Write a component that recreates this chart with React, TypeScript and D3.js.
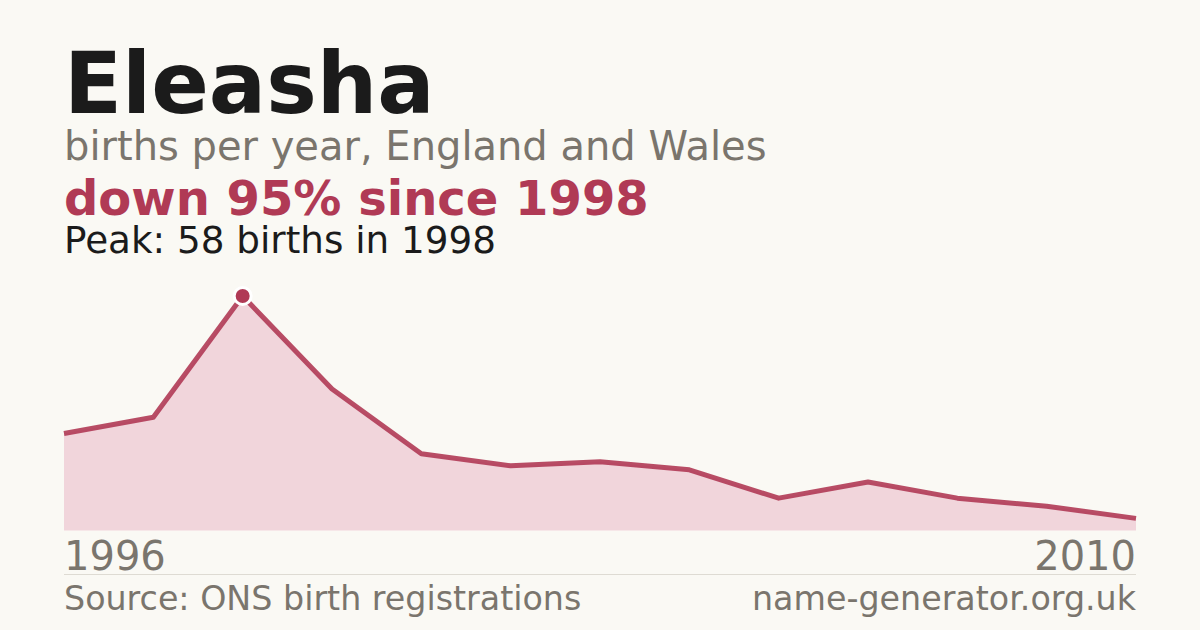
import React from 'react';
import * as d3 from 'd3';

const years = [1996, 1997, 1998, 1999, 2000, 2001, 2002, 2003, 2004, 2005, 2006, 2008, 2010];
const births = [24, 28, 58, 35, 19, 16, 17, 15, 8, 12, 8, 6, 3];
const firstYearLabel = '1996';
const lastYearLabel = '2010';

const W = 1200;
const H = 630;
const margin = { left: 64, right: 64 };
const plotTop = 296;
const plotBottom = 530.5;

const red = '#b03a55';
const grey = '#7a756d';

const App: React.FC = () => {
    const x = d3.scalePoint<number>()
        .domain(years)
        .range([margin.left, W - margin.right]);

    const y = d3.scaleLinear()
        .domain([0, d3.max(births) as number])
        .range([plotBottom, plotTop]);

    const pts = years.map((yr, i) => ({ yr, v: births[i] }));

    const area = d3.area<{ yr: number; v: number }>()
        .x(d => x(d.yr) as number)
        .y0(plotBottom)
        .y1(d => y(d.v));

    const line = d3.line<{ yr: number; v: number }>()
        .x(d => x(d.yr) as number)
        .y(d => y(d.v));

    const peakIdx = d3.maxIndex(births);
    const peak = pts[peakIdx];
    const last = births[births.length - 1];
    const drop = Math.round((1 - last / peak.v) * 100);

    return (
        <svg width={W} height={H} style={{ position: 'absolute', left: 0, top: 0, display: 'block' }}
             fontFamily="DejaVu Sans, sans-serif">
            <rect width={W} height={H} fill="#faf9f4" />

            <text x={64} y={113} fontSize={85} fontWeight="bold" fill="#1b1b1b">Eleasha</text>
            <text x={64} y={160} fontSize={40} fill={grey}>births per year, England and Wales</text>
            <text x={64} y={215} fontSize={48} fontWeight="bold" fill={red}>
                {`down ${drop}% since ${peak.yr}`}
            </text>
            <text x={64} y={253} fontSize={37.3} fill="#1b1b1b">
                {`Peak: ${peak.v} births in ${peak.yr}`}
            </text>

            <path d={area(pts) as string} fill="#f1d5db" />
            <path d={line(pts) as string} fill="none" stroke={red} strokeWidth={5}
                  strokeLinejoin="round" strokeOpacity={0.9} />
            <circle cx={x(peak.yr)} cy={y(peak.v)} r={8.5} fill={red} stroke="#ffffff" strokeWidth={3} />

            <text x={margin.left} y={569.5} fontSize={40} fill={grey}>{firstYearLabel}</text>
            <text x={W - margin.right} y={569.5} fontSize={40} fill={grey} textAnchor="end">{lastYearLabel}</text>

            <line x1={margin.left} x2={W - margin.right} y1={574.5} y2={574.5} stroke="#dedbd3" strokeWidth={1} />

            <text x={64} y={609.5} fontSize={33.3} fill={grey}>Source: ONS birth registrations</text>
            <text x={W - margin.right} y={609.5} fontSize={33.3} fill={grey} textAnchor="end">name-generator.org.uk</text>
        </svg>
    );
};

export default App;
